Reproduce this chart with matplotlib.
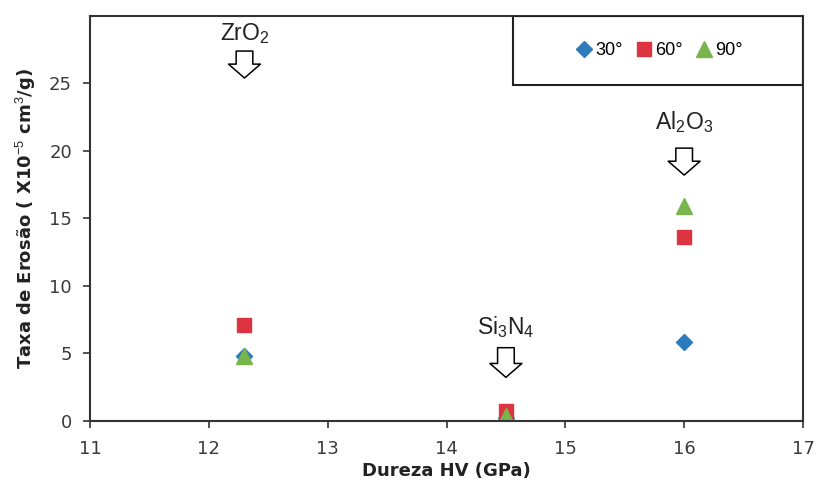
import matplotlib.pyplot as plt
from matplotlib.patches import Rectangle

plt.rcParams['mathtext.fontset'] = 'custom'
plt.rcParams['mathtext.rm'] = 'Liberation Sans'
plt.rcParams['mathtext.default'] = 'rm'

# data
hardness = [12.3, 14.5, 16.0]
erosion_30 = [4.8, 0.2, 5.8]
erosion_60 = [7.1, 0.7, 13.6]
erosion_90 = [4.8, 0.3, 15.9]
materials = [r'ZrO$_2$', r'Si$_3$N$_4$', r'Al$_2$O$_3$']
label_y = [28.7, 6.9, 22.1]
arrow_top = [27.4, 5.4, 20.2]
arrow_tip = [25.4, 3.2, 18.2]
x_ticks = [11, 12, 13, 14, 15, 16, 17]
y_ticks = [0, 5, 10, 15, 20, 25]

fig = plt.figure(figsize=(8.18, 4.83), dpi=100)
ax = fig.add_axes([90/818, 62.5/483, 713/818, 404.5/483])

ax.plot(hardness, erosion_30, ls='none', marker='D', ms=8.5, color='#2b7bbd', label='30°')
ax.plot(hardness, erosion_60, ls='none', marker='s', ms=10, color='#dc3440', label='60°')
ax.plot(hardness, erosion_90, ls='none', marker='^', ms=11, color='#78b54c', label='90°')

for x, name, ly, at, tip in zip(hardness, materials, label_y, arrow_top, arrow_tip):
    ax.text(x, ly, name, ha='center', va='center', fontsize=16.5,
            family='Liberation Sans', color='#222222')
    ax.annotate('', xy=(x, tip), xytext=(x, at),
                arrowprops=dict(arrowstyle='simple,head_width=2.3,head_length=1.0,tail_width=1.2',
                                mutation_scale=10, fc='white', ec='black', lw=1.1,
                                shrinkA=0, shrinkB=0))

ax.set_xlim(11, 17)
ax.set_ylim(0, 30)
ax.set_xticks(x_ticks)
ax.set_yticks(y_ticks)
ax.tick_params(direction='out', length=5, width=1.2, color='#333333',
               labelsize=13, labelcolor='#3a3a3a')
ax.tick_params(axis='x', pad=9)
ax.tick_params(axis='y', pad=8)
for s in ax.spines.values():
    s.set_linewidth(1.5)
    s.set_color('#333333')

ax.set_xlabel('Dureza HV (GPa)', fontsize=13, fontweight='bold',
              color='#222222', labelpad=3)
ax.set_ylabel(r'Taxa de Erosão ( X10$^{-5}$ cm$^3$/g)', fontsize=13, fontweight='bold',
              color='#222222', labelpad=8)

# legend box in upper right
x0 = (513 - 90) / 713
h = 69 / 404.5
ax.add_patch(Rectangle((x0, 1 - h), 1 - x0, h, transform=ax.transAxes,
                       fill=False, ec='#222222', lw=1.5, zorder=5))
ax.legend(loc='center', bbox_to_anchor=(x0, 1 - h, 1 - x0, h), ncol=3, frameon=False,
          handletextpad=0.0, columnspacing=0.6, handlelength=1.2,
          prop={'family': 'Liberation Sans', 'size': 13})

fig.savefig('out.png', dpi=100)
